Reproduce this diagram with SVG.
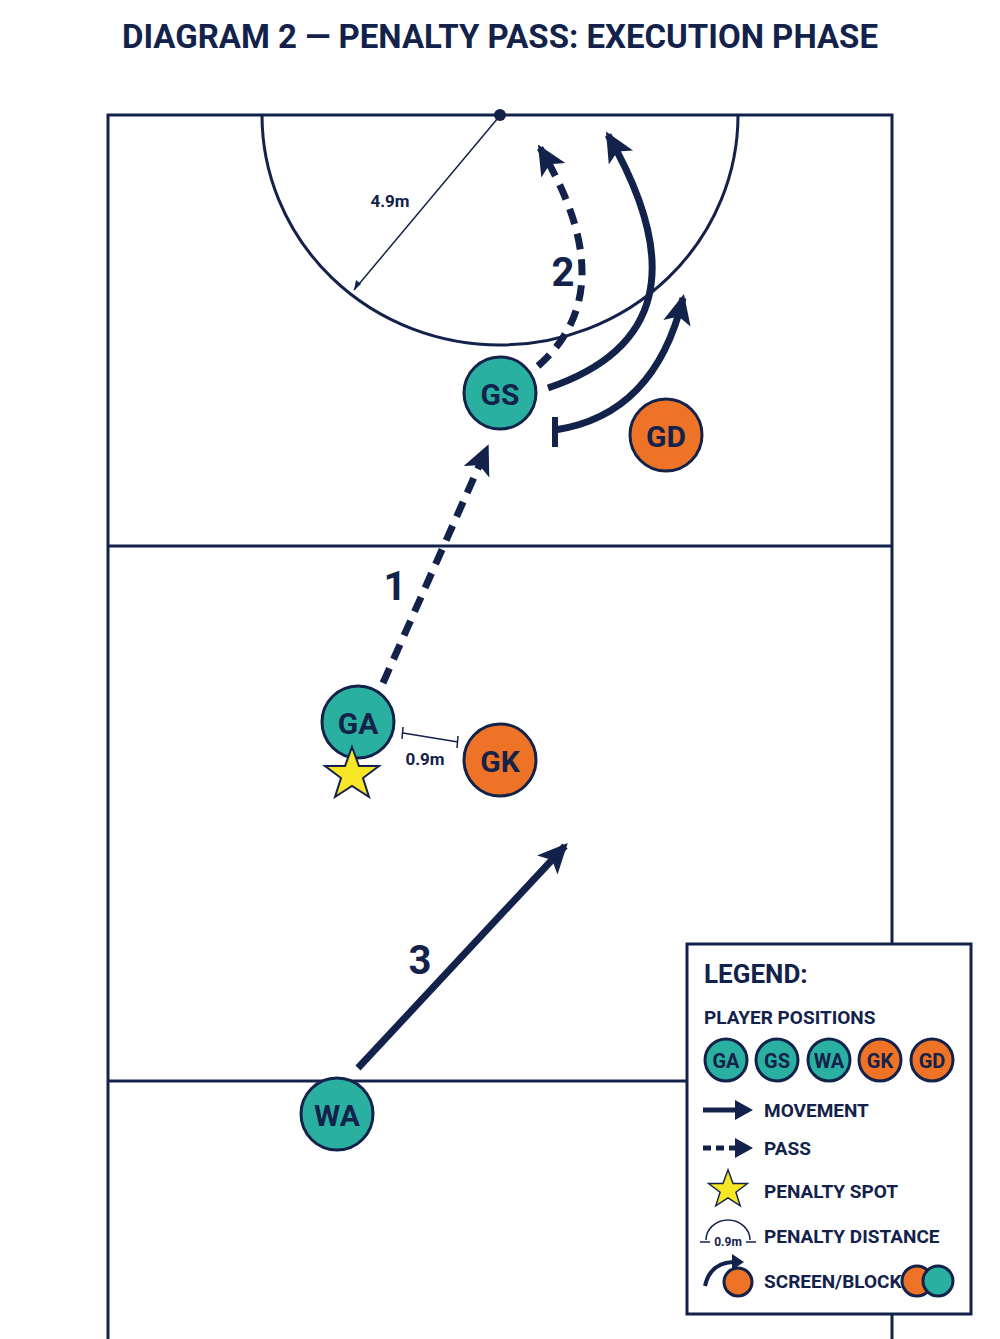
<svg xmlns="http://www.w3.org/2000/svg" width="1000" height="1339" viewBox="0 0 1000 1339">
<style>
text{font-family:Roboto,"Liberation Sans",sans-serif;font-weight:bold;fill:#13224a}
.ln{stroke:#13224a;fill:none}
.att{fill:#2ab0a0;stroke:#13224a;stroke-width:3}
.def{fill:#ee7326;stroke:#13224a;stroke-width:3}
.pl{font-size:30px;text-anchor:middle}
.lg{font-size:19px}
</style>
<defs>
<marker id="ah" markerUnits="userSpaceOnUse" markerWidth="34" markerHeight="34" refX="26" refY="17" orient="auto"><path d="M0,3 L30,17 L0,31 L7,17 Z" fill="#13224a"/></marker>
<marker id="ahs" markerUnits="userSpaceOnUse" markerWidth="24" markerHeight="24" refX="20" refY="12" orient="auto"><path d="M0,2 L22,12 L0,22 L5,12 Z" fill="#13224a"/></marker>
<g id="star"><polygon points="0,-28 7,-9 27,-9 11,3 17,22 0,11 -17,22 -11,3 -27,-9 -7,-9" fill="#f7e625" stroke="#13224a" stroke-width="2"/></g>
</defs>
<rect width="1000" height="1339" fill="#fff"/>
<text x="500" y="48" font-size="34" text-anchor="middle" textLength="756" lengthAdjust="spacingAndGlyphs">DIAGRAM 2 — PENALTY PASS: EXECUTION PHASE</text>
<g id="court" class="ln" stroke-width="3">
<path d="M108,1339 V115 H892 V1339"/>
<line x1="108" y1="546" x2="892" y2="546"/>
<line x1="108" y1="1081" x2="892" y2="1081"/>
<path d="M262,115 A238,230 0 0 0 738,115"/>
</g>
<circle cx="500" cy="115" r="6" fill="#13224a"/>
<line x1="500" y1="115" x2="354" y2="290" stroke="#13224a" stroke-width="1.5" marker-end="url(#ahs)" style="display:none"/>
<g id="radius"><line x1="498" y1="118" x2="354" y2="290" stroke="#13224a" stroke-width="1.5"/><path d="M354,290 l2,-10 l5,4 z" fill="#13224a"/><text x="390" y="207" font-size="17" text-anchor="middle">4.9m</text></g>
<g id="connectors" class="ln">
<line x1="383" y1="683" x2="487" y2="448" stroke-width="7" stroke-dasharray="16,10" marker-end="url(#ah)"/>
<path d="M538,366 Q625,290 540,148" stroke-width="7" stroke-dasharray="16,10" marker-end="url(#ah)"/>
<path d="M548,388 Q720,330 608,135" stroke-width="7" marker-end="url(#ah)"/>
<path d="M555,430 Q655,415 683,298" stroke-width="7" marker-end="url(#ah)"/>
<line x1="555" y1="417" x2="555" y2="447" stroke-width="6"/>
<line x1="358" y1="1068" x2="565" y2="846" stroke-width="7" marker-end="url(#ah)"/>
<line x1="403" y1="733" x2="458" y2="742" stroke-width="1.5"/>
<line x1="403" y1="727" x2="402" y2="739" stroke-width="1.5"/>
<line x1="458" y1="736" x2="457" y2="748" stroke-width="1.5"/>
</g>
<text x="395" y="600" font-size="40" text-anchor="middle">1</text>
<text x="563" y="286" font-size="40" text-anchor="middle">2</text>
<text x="420" y="974" font-size="40" text-anchor="middle">3</text>
<text x="425" y="765" font-size="17" text-anchor="middle">0.9m</text>
<g id="GS"><circle class="att" cx="500" cy="393" r="36"/><text class="pl" x="500" y="405">GS</text></g>
<g id="GD"><circle class="def" cx="666" cy="435" r="36"/><text class="pl" x="666" y="447">GD</text></g>
<g id="GA"><circle class="att" cx="358" cy="722" r="36"/><text class="pl" x="358" y="734">GA</text></g>
<use href="#star" x="352" y="775"/>
<g id="GK"><circle class="def" cx="500" cy="760" r="36"/><text class="pl" x="500" y="772">GK</text></g>
<g id="WA"><circle class="att" cx="337" cy="1114" r="36"/><text class="pl" x="337" y="1126">WA</text></g>
<g id="legend">
<rect x="687" y="944" width="284" height="370" fill="#fff" stroke="#13224a" stroke-width="3"/>
<text x="704" y="983" font-size="26">LEGEND:</text>
<text x="704" y="1024" class="lg" font-size="18">PLAYER POSITIONS</text>
<circle class="att" cx="726" cy="1060" r="21"/><text x="726" y="1068" font-size="20" text-anchor="middle">GA</text>
<circle class="att" cx="777" cy="1060" r="21"/><text x="777" y="1068" font-size="20" text-anchor="middle">GS</text>
<circle class="att" cx="829" cy="1060" r="21"/><text x="829" y="1068" font-size="20" text-anchor="middle">WA</text>
<circle class="def" cx="880" cy="1060" r="21"/><text x="880" y="1068" font-size="20" text-anchor="middle">GK</text>
<circle class="def" cx="932" cy="1060" r="21"/><text x="932" y="1068" font-size="20" text-anchor="middle">GD</text>
<line x1="703" y1="1110" x2="748" y2="1110" class="ln" stroke-width="5"/><path d="M735,1100 L753,1110 L735,1120 Z" fill="#13224a"/>
<text x="764" y="1117" class="lg">MOVEMENT</text>
<line x1="703" y1="1148" x2="748" y2="1148" class="ln" stroke-width="5" stroke-dasharray="8,5"/><path d="M735,1138 L753,1148 L735,1158 Z" fill="#13224a"/>
<text x="764" y="1155" class="lg">PASS</text>
<use href="#star" x="728" y="1190" transform="translate(728 1190) scale(0.72) translate(-728 -1190)"/>
<text x="764" y="1198" class="lg">PENALTY SPOT</text>
<path d="M706,1240 A22,20 0 0 1 750,1240" class="ln" stroke-width="1.5"/>
<line x1="700" y1="1242" x2="710" y2="1242" class="ln" stroke-width="1.5"/><line x1="746" y1="1242" x2="756" y2="1242" class="ln" stroke-width="1.5"/>
<text x="728" y="1246" font-size="12" text-anchor="middle">0.9m</text>
<text x="764" y="1243" class="lg">PENALTY DISTANCE</text>
<circle class="def" cx="738" cy="1282" r="14" stroke-width="2"/>
<path d="M705,1286 Q710,1263 733,1262" class="ln" stroke-width="4"/><path d="M732,1254 L744,1262 L732,1270 Z" fill="#13224a"/>
<text x="764" y="1288" class="lg">SCREEN/BLOCK</text>
<circle class="def" cx="917" cy="1281" r="15" stroke-width="2"/>
<circle class="att" cx="938" cy="1281" r="15" stroke-width="2"/>
</g>
</svg>
